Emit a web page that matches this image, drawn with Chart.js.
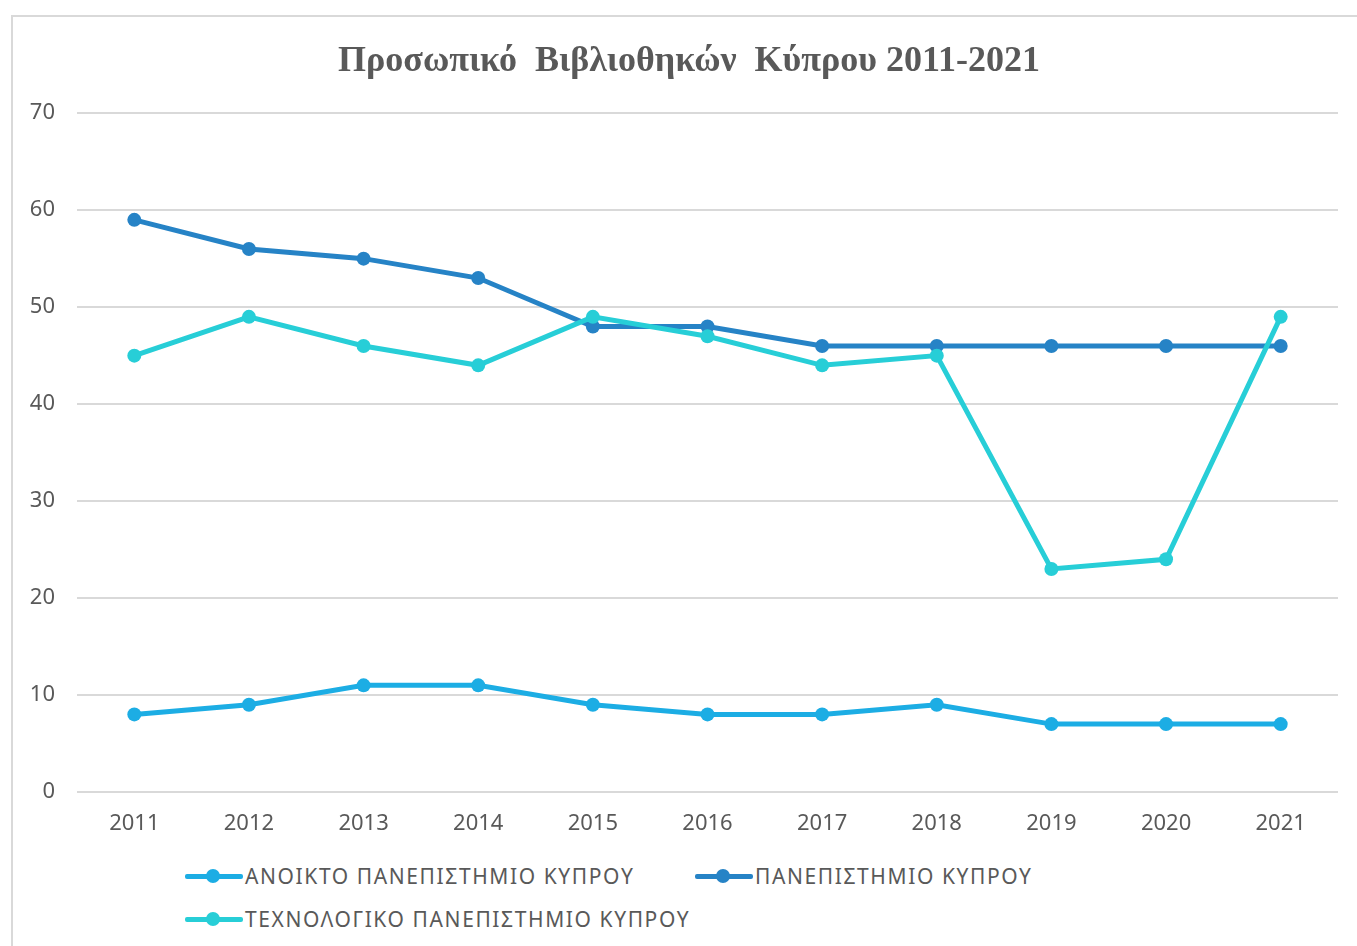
<!DOCTYPE html>
<html>
<head>
<meta charset="utf-8">
<script src="https://cdn.jsdelivr.net/npm/chart.js@4.4.0/dist/chart.umd.min.js"></script>
<style>
    body { margin: 0; background: #fff; width: 1357px; height: 946px; overflow: hidden; position: relative; }
    #frame { position: absolute; left: 11px; top: 15px; width: 1400px; height: 1000px; border: 2px solid #d9d9d9; box-sizing: border-box; }
    #wrap { position: absolute; left: 0; top: 0; width: 1378px; height: 850px; }
    .legend { position: absolute; font-family: 'Noto Sans', sans-serif; font-size: 21px; letter-spacing: 1.6px; color: #595959; white-space: nowrap; }
    .legend .item { position: absolute; display: flex; align-items: center; }
    .legend .mark { position: relative; width: 58px; height: 14px; margin-right: 2px; }
    .legend .mark .ln { position: absolute; left: 0; right: 0; top: 5px; height: 5px; border-radius: 2px; }
    .legend .mark .dot { position: absolute; left: 21px; top: 0; width: 14px; height: 14px; border-radius: 50%; }
</style>
</head>
<body>
<div id="frame"></div>
<div id="wrap"><canvas id="canvasSingle"></canvas></div>
<div class="legend" id="legend"></div>
<script>
const years = ['2011', '2012', '2013', '2014', '2015', '2016', '2017', '2018', '2019', '2020', '2021'];
const seriesNames = ['ΑΝΟΙΚΤΟ ΠΑΝΕΠΙΣΤΗΜΙΟ ΚΥΠΡΟΥ', 'ΠΑΝΕΠΙΣΤΗΜΙΟ ΚΥΠΡΟΥ', 'ΤΕΧΝΟΛΟΓΙΚΟ ΠΑΝΕΠΙΣΤΗΜΙΟ ΚΥΠΡΟΥ'];
const anoikto = [8, 9, 11, 11, 9, 8, 8, 9, 7, 7, 7];
const panepistimio = [59, 56, 55, 53, 48, 48, 46, 46, 46, 46, 46];
const texnologiko = [45, 49, 46, 44, 49, 47, 44, 45, 23, 24, 49];
const colores = ['#1CADE4', '#2683C6', '#27CED7'];

const textColor = '#595959';
const gridColor = '#d9d9d9';

function lineDataset(i, data) {
    return {
        label: seriesNames[i],
        data: data,
        borderColor: colores[i],
        backgroundColor: colores[i],
        borderWidth: 5,
        pointRadius: 7,
        pointHoverRadius: 7,
        pointBorderWidth: 0,
        tension: 0,
        order: 3 - i
    }
}

let config = {
    type: 'line',
    data: {
        labels: years,
        datasets: [
            lineDataset(0, anoikto),
            lineDataset(1, panepistimio),
            lineDataset(2, texnologiko)
        ]
    },
    options: {
        responsive: true,
        maintainAspectRatio: false,
        animation: false,
        layout: {
            padding: { left: 0, right: 0, top: 40, bottom: 13 }
        },
        plugins: {
            title: {
                display: true,
                text: 'Προσωπικό  Βιβλιοθηκών  Κύπρου 2011-2021',
                color: textColor,
                font: { family: "'Liberation Serif', serif", size: 36, weight: 'bold' },
                padding: { top: 0, bottom: 30 }
            },
            legend: { display: false },
            tooltip: { enabled: false }
        },
        scales: {
            x: {
                offset: true,
                grid: { display: false, drawTicks: false },
                border: { display: false },
                ticks: {
                    color: textColor,
                    padding: 19,
                    font: { family: "'Noto Sans', sans-serif", size: 22 }
                },
                afterFit: function (scale) { scale.height = 45; }
            },
            y: {
                min: 0,
                max: 70,
                grid: { color: gridColor, lineWidth: 2, drawTicks: false },
                border: { display: false },
                ticks: {
                    stepSize: 10,
                    color: textColor,
                    padding: 22,
                    font: { family: "'Noto Sans', sans-serif", size: 22 }
                },
                afterFit: function (scale) { scale.width = 77; }
            },
            // eje vacio a la derecha, solo para dejar el margen
            yRight: {
                position: 'right',
                grid: { display: false, drawTicks: false },
                border: { display: false },
                ticks: { display: false },
                afterFit: function (scale) { scale.width = 40; }
            }
        }
    }
};

const myChart = new Chart(document.getElementById('canvasSingle'), config);

// leyenda en HTML, dos columnas a la izquierda
const legendPos = [[185, 876], [695, 876], [185, 919]];
const legend = document.getElementById('legend');
seriesNames.forEach((name, i) => {
    const item = document.createElement('div');
    item.className = 'item';
    item.style.left = legendPos[i][0] + 'px';
    item.style.top = (legendPos[i][1] - 15) + 'px';
    item.style.height = '30px';
    item.innerHTML = `<div class="mark"><div class="ln" style="background:${colores[i]}"></div><div class="dot" style="background:${colores[i]}"></div></div><span>${name}</span>`;
    legend.appendChild(item);
});
</script>
</body>
</html>
